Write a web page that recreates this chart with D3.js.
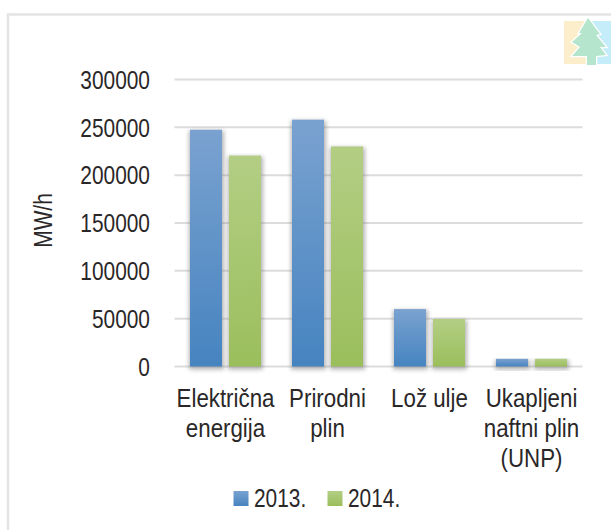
<!DOCTYPE html>
<meta charset="utf-8">
<style>
body { margin: 0; background: #fff; }
text { font-family: "Liberation Sans", sans-serif; fill: #2a2728; font-size: 25.5px; }
.grid line { stroke: #dcdcdc; stroke-width: 2; }
.frame { fill: none; stroke: #e4e4e4; stroke-width: 2.5; }
</style>
<svg width="611" height="530"></svg>
<script src="https://d3js.org/d3.v7.min.js"></script>
<script>

var categories = [["Električna", "energija"], ["Prirodni", "plin"], ["Lož ulje"], ["Ukapljeni", "naftni plin", "(UNP)"]];
var years = ["2013.", "2014."];
var values2013 = [247500, 258000, 60000, 8000];
var values2014 = [220500, 230000, 49700, 8000];
var yTicks = [0, 50000, 100000, 150000, 200000, 250000, 300000];

var svg = d3.select("svg"),
    margin = {top: 79.5, right: 28.5, bottom: 163.5, left: 174.5},
    width = +svg.attr("width") - margin.left - margin.right,
    height = +svg.attr("height") - margin.top - margin.bottom;

var x = d3.scaleBand().domain(d3.range(categories.length)).range([0, width]);
var y = d3.scaleLinear().domain([0, 300000]).range([height, 0]);
var barW = 32, gap = 7;
var narrow = " scale(0.82,1)"; // no narrow Arial installed, squeeze the regular one

var defs = svg.append("defs");

function gradient(id, top, bottom) {
  var g = defs.append("linearGradient").attr("id", id)
      .attr("x1", 0).attr("y1", 0).attr("x2", 0).attr("y2", 1);
  g.append("stop").attr("offset", "0%").attr("stop-color", top);
  g.append("stop").attr("offset", "100%").attr("stop-color", bottom);
}
gradient("blue", "#7aa2d0", "#4684c0");
gradient("green", "#b3ce84", "#9bbe5c");

defs.append("filter").attr("id", "shadow").attr("x", "-30%").attr("y", "-10%").attr("width", "160%").attr("height", "120%")
  .append("feGaussianBlur").attr("stdDeviation", 2.2);
defs.append("filter").attr("id", "soft")
  .append("feGaussianBlur").attr("stdDeviation", 0.7);

// page frame, open at the bottom and right like the source scan
svg.append("path").attr("class", "frame").attr("d", "M8,530V14.5H611");

// faded logo in the corner
var logo = svg.append("g").attr("filter", "url(#soft)");
logo.append("rect").attr("x", 564).attr("y", 21).attr("width", 22).attr("height", 43).attr("fill", "#fdeecb");
logo.append("rect").attr("x", 592).attr("y", 21).attr("width", 19).attr("height", 43).attr("fill", "#c5ecf9");
logo.append("path").attr("fill", "#b5e6cd").attr("stroke", "#fff").attr("stroke-width", 2.5).attr("paint-order", "stroke")
  .attr("d", "M588,18L600,34L596,35L606,47L600,47L606,55L596,56V65H587V56H572L580,47L572,42L582,33L579,33Z");

var g = svg.append("g").attr("transform", "translate(" + margin.left + "," + margin.top + ")");

g.append("g").attr("class", "grid")
  .selectAll("line").data(yTicks).enter().append("line")
    .attr("x1", 0).attr("x2", width)
    .attr("y1", function(d) { return y(d); })
    .attr("y2", function(d) { return y(d); });

g.selectAll(".ylabel").data(yTicks).enter().append("text")
    .attr("class", "ylabel")
    .attr("transform", function(d) { return "translate(-24.5," + y(d) + ")" + narrow; })
    .attr("dy", "0.36em")
    .attr("text-anchor", "end")
    .text(function(d) { return d; });

g.append("text")
    .attr("transform", "translate(-122.5," + (220.5 - margin.top) + ") rotate(-90)" + narrow)
    .attr("text-anchor", "middle")
    .text("MW/h");

function drawBars(values, offset, fill) {
  var cx = function(i) { return x(i) + x.bandwidth() / 2 + offset; };
  // soft shadow behind each bar
  g.selectAll(null).data(values).enter().append("rect")
      .attr("x", function(d, i) { return cx(i) - barW / 2 - 1; })
      .attr("y", function(d) { return y(d) + 1; })
      .attr("width", barW + 3)
      .attr("height", function(d) { return y(0) - y(d) + 2; })
      .attr("fill", "#777")
      .attr("opacity", 0.55)
      .attr("filter", "url(#shadow)");
  g.selectAll(null).data(values).enter().append("rect")
      .attr("x", function(d, i) { return cx(i) - barW / 2; })
      .attr("y", function(d) { return y(d); })
      .attr("width", barW)
      .attr("height", function(d) { return y(0) - y(d); })
      .attr("fill", "url(#" + fill + ")");
}
drawBars(values2013, -(barW + gap) / 2, "blue");
drawBars(values2014, (barW + gap) / 2, "green");

var cat = g.selectAll(".cat").data(categories).enter().append("text")
    .attr("class", "cat")
    .attr("text-anchor", "middle")
    .attr("transform", function(d, i) { return "translate(" + (x(i) + x.bandwidth() / 2) + "," + (height + 40.5) + ") scale(0.875,1)"; });
cat.selectAll("tspan").data(function(d) { return d; }).enter().append("tspan")
    .attr("x", 0)
    .attr("y", function(d, i) { return i * 30; })
    .text(function(d) { return d; });

var legend = svg.selectAll(".legend").data(years).enter().append("g")
    .attr("class", "legend")
    .attr("transform", function(d, i) { return "translate(" + (233.5 + i * 94) + ",0)"; });
legend.append("rect")
    .attr("y", 491).attr("width", 15).attr("height", 15)
    .attr("fill", function(d, i) { return i ? "url(#green)" : "url(#blue)"; });
legend.append("text")
    .attr("transform", "translate(20.5,506.5)" + narrow)
    .text(function(d) { return d; });

</script>
